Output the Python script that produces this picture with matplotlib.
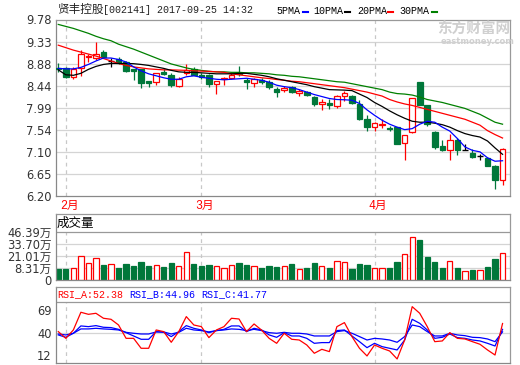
import matplotlib
matplotlib.use("Agg")
import matplotlib.pyplot as plt
from matplotlib.lines import Line2D
from matplotlib.patches import Rectangle

plt.rcParams["font.family"] = ["DejaVu Sans", "Noto Sans CJK SC"]

# ---- data ----
opens = [8.80, 8.80, 8.61, 8.80, 9.03, 9.006, 9.127, 8.93, 8.99, 8.92,
         8.775, 8.775, 8.53, 8.52, 8.72, 8.66, 8.443, 8.696, 8.78, 8.66,
         8.648, 8.464, 8.57, 8.593, 8.70, 8.545, 8.49, 8.545, 8.51, 8.368,
         8.36, 8.41, 8.287, 8.32, 8.205, 8.075, 8.096, 8.034, 8.239, 8.232,
         8.075, 7.76, 7.605, 7.65, 7.58, 7.597, 7.275, 7.494, 8.509, 8.043,
         7.508, 7.22, 7.144, 7.343, 7.13, 7.069, 7.014, 6.98, 6.822, 6.534]
highs = [8.90, 8.82, 8.82, 9.16, 9.09, 9.32, 9.17, 9.00, 9.02, 8.93,
         8.78, 8.78, 8.535, 8.70, 8.77, 8.69, 8.61, 8.886, 8.81, 8.69,
         8.68, 8.54, 8.61, 8.69, 8.83, 8.59, 8.59, 8.59, 8.565, 8.41,
         8.44, 8.44, 8.375, 8.34, 8.225, 8.17, 8.17, 8.25, 8.327, 8.25,
         8.14, 7.84, 7.70, 7.76, 7.62, 7.60, 7.45, 8.20, 8.51, 8.05,
         7.53, 7.343, 7.46, 7.39, 7.253, 7.165, 7.062, 7.00, 6.84, 7.17]
lows = [8.72, 8.60, 8.585, 8.64, 8.92, 8.96, 9.02, 8.81, 8.88, 8.72,
        8.55, 8.40, 8.42, 8.45, 8.66, 8.42, 8.41, 8.66, 8.65, 8.58,
        8.42, 8.27, 8.46, 8.58, 8.63, 8.38, 8.42, 8.48, 8.375, 8.22,
        8.31, 8.30, 8.225, 8.24, 8.035, 7.95, 7.966, 7.99, 8.123, 8.07,
        7.75, 7.52, 7.52, 7.59, 7.53, 7.25, 6.945, 7.49, 8.04, 7.63,
        7.15, 7.117, 6.93, 7.03, 7.13, 6.98, 6.945, 6.81, 6.342, 6.43]
closes = [8.77, 8.62, 8.775, 9.08, 9.05, 9.073, 9.025, 8.93, 8.89, 8.735,
          8.74, 8.50, 8.50, 8.69, 8.67, 8.46, 8.58, 8.764, 8.66, 8.607,
          8.464, 8.532, 8.59, 8.66, 8.68, 8.505, 8.58, 8.505, 8.41, 8.32,
          8.39, 8.307, 8.33, 8.26, 8.068, 8.11, 8.048, 8.225, 8.286, 8.082,
          7.76, 7.605, 7.693, 7.66, 7.565, 7.254, 7.446, 8.193, 8.043, 7.666,
          7.206, 7.137, 7.343, 7.137, 7.13, 7.00, 7.014, 6.81, 6.534, 7.165]

ma5 = [8.79, 8.78, 8.78, 8.81, 8.87, 8.94, 9.00, 9.00, 8.97, 8.92,
       8.82, 8.74, 8.68, 8.64, 8.60, 8.57, 8.57, 8.62, 8.64, 8.61,
       8.59, 8.57, 8.56, 8.57, 8.58, 8.59, 8.57, 8.55, 8.51, 8.45,
       8.42, 8.40, 8.36, 8.31, 8.26, 8.22, 8.18, 8.16, 8.155, 8.145,
       8.08, 7.95, 7.84, 7.74, 7.66, 7.60, 7.55, 7.57, 7.66, 7.72,
       7.70, 7.60, 7.52, 7.37, 7.20, 7.13, 7.10, 6.98, 6.91, 6.92]
ma10 = [8.76, 8.66, 8.65, 8.69, 8.77, 8.83, 8.87, 8.89, 8.89, 8.89,
        8.885, 8.87, 8.85, 8.82, 8.79, 8.75, 8.72, 8.71, 8.71, 8.70,
        8.69, 8.68, 8.68, 8.68, 8.69, 8.69, 8.67, 8.65, 8.62, 8.58,
        8.55, 8.52, 8.49, 8.46, 8.42, 8.39, 8.36, 8.355, 8.35, 8.34,
        8.27, 8.20, 8.10, 8.02, 7.93, 7.85, 7.78, 7.72, 7.70, 7.70,
        7.68, 7.65, 7.60, 7.53, 7.47, 7.43, 7.40, 7.32, 7.18, 7.05]
ma20 = [9.26, 9.21, 9.16, 9.12, 9.08, 9.04, 8.99, 8.94, 8.89, 8.85,
        8.82, 8.80, 8.78, 8.77, 8.76, 8.76, 8.755, 8.75, 8.74, 8.735,
        8.73, 8.72, 8.71, 8.68, 8.66, 8.64, 8.62, 8.60, 8.585, 8.565,
        8.55, 8.53, 8.52, 8.50, 8.48, 8.46, 8.44, 8.42, 8.40, 8.37,
        8.34, 8.31, 8.27, 8.23, 8.16, 8.11, 8.07, 8.04, 8.00, 7.96,
        7.92, 7.88, 7.84, 7.80, 7.76, 7.70, 7.64, 7.53, 7.45, 7.38]
ma30 = [9.68, 9.64, 9.60, 9.55, 9.50, 9.44, 9.39, 9.35, 9.28, 9.23,
        9.18, 9.12, 9.06, 9.00, 8.94, 8.88, 8.84, 8.80, 8.77, 8.75,
        8.73, 8.72, 8.72, 8.71, 8.71, 8.70, 8.70, 8.69, 8.68, 8.66,
        8.65, 8.63, 8.62, 8.60, 8.58, 8.56, 8.54, 8.52, 8.51, 8.48,
        8.45, 8.42, 8.39, 8.36, 8.31, 8.28, 8.27, 8.25, 8.21, 8.16,
        8.13, 8.10, 8.06, 8.02, 7.98, 7.92, 7.86, 7.78, 7.70, 7.66]

# volume in 万 (axis labelled oddly: bottom tick reads "0")
volumes = [7.5, 7.5, 8.6, 21.2, 13.6, 19.4, 11.8, 12.5, 8.9, 12.9,
           10.7, 15.1, 10.7, 11.5, 9.7, 14.0, 10.7, 25.5, 12.9, 10.7,
           11.8, 10.4, 8.6, 11.5, 14.0, 11.8, 10.4, 8.9, 10.7, 9.7,
           10.4, 12.9, 7.5, 8.6, 14.0, 10.4, 8.6, 15.8, 15.1, 7.5,
           12.9, 11.8, 8.6, 8.6, 8.6, 15.1, 23.3, 41.7, 38.1, 20.5,
           15.1, 8.6, 15.8, 8.6, 5.0, 6.4, 6.1, 9.7, 18.3, 24.4]

rsi_a = [42.1, 33.6, 44.2, 66.6, 64.0, 65.3, 59.0, 57.7, 50.5, 33.6,
         33.6, 21.0, 21.0, 44.2, 42.1, 28.6, 42.1, 61.1, 50.5, 48.4,
         34.5, 44.2, 48.4, 59.0, 58.1, 42.1, 51.8, 44.0, 33.6, 27.3,
         40.0, 32.4, 31.5, 25.2, 14.7, 19.7, 16.8, 48.4, 53.5, 35.8,
         21.0, 11.3, 25.2, 21.0, 17.6, 7.5, 31.5, 73.7, 65.3, 48.4,
         29.4, 30.3, 40.8, 33.6, 32.8, 29.4, 26.1, 18.9, 12.5, 52.38]
rsi_b = [37.9, 34.9, 40.0, 49.3, 48.4, 49.7, 47.6, 47.2, 45.0, 40.8,
         36.6, 32.4, 32.4, 42.1, 41.2, 35.8, 42.1, 49.7, 46.3, 44.2,
         40.8, 43.4, 45.0, 49.3, 49.3, 42.1, 46.3, 44.2, 37.9, 34.9,
         40.8, 36.6, 36.6, 33.6, 27.3, 28.2, 28.2, 43.4, 44.2, 36.6,
         29.4, 21.8, 27.3, 23.1, 21.0, 18.9, 31.5, 57.7, 52.6, 44.2,
         33.6, 34.9, 39.1, 34.5, 33.6, 31.5, 30.3, 27.3, 23.9, 44.96]
rsi_c = [39.1, 37.9, 40.0, 45.5, 45.5, 46.3, 45.5, 45.0, 44.2, 41.2,
         40.0, 39.1, 39.1, 41.7, 41.7, 39.1, 41.2, 46.3, 44.2, 43.4,
         41.7, 43.4, 44.2, 45.5, 45.0, 43.4, 45.0, 43.4, 40.8, 40.0,
         41.2, 40.0, 40.0, 39.1, 36.6, 36.6, 36.6, 42.1, 43.4, 40.0,
         35.8, 31.5, 33.6, 32.8, 31.5, 28.6, 35.8, 50.5, 48.4, 42.1,
         36.6, 36.6, 40.0, 37.9, 37.0, 34.9, 34.5, 32.8, 29.4, 41.77]

month_starts = [1, 19, 42]
month_labels = ["2月", "3月", "4月"]
price_ticks = [9.78, 9.33, 8.88, 8.44, 7.99, 7.54, 7.10, 6.65, 6.20]
price_tick_labels = ["9.78", "9.33", "8.88", "8.44", "7.99", "7.54", "7.10", "6.65", "6.20"]
vol_ticks = [-4.38, 8.31, 21.01, 33.70, 46.39]
vol_tick_labels = ["0", "8.31万", "21.01万", "33.70万", "46.39万"]
rsi_ticks = [12, 40, 69]
rsi_tick_labels = ["12", "40", "69"]

# ---- styling ----
W, H = 520, 365
RED = "#ff0000"
GREEN = "#00773a"
GRID = "#d4d4d4"
FRAME = "#999999"
MONO = ["Liberation Mono", "Noto Sans CJK SC"]
CJK = ["Noto Sans CJK SC", "DejaVu Sans"]


def rect(left, top, right, bottom):
    """Pixel box (top-left origin) -> figure fraction rect."""
    return [left / W, 1 - bottom / H, (right - left) / W, (bottom - top) / H]


def ftext(px, py, s, **kw):
    fig.text(px / W, 1 - py / H, s, **kw)


def style_axes(ax, ticks, labels):
    ax.set_xlim(-0.345, 59.99)
    ax.set_xticks([])
    ax.set_yticks(ticks)
    ax.set_yticklabels(labels)
    ax.tick_params(axis="y", length=0, pad=3, labelsize=8.3, labelcolor="#333333")
    for side in ax.spines:
        ax.spines[side].set_color(FRAME)
        ax.spines[side].set_linewidth(0.9)
    ax.spines["left"].set_color("#888888")
    ax.spines["bottom"].set_color("#888888")


fig = plt.figure(figsize=(W / 100, H / 100), dpi=100)
x = list(range(len(closes)))

# ---- price panel ----
ax = fig.add_axes(rect(55.7, 19.5, 510, 196.3))
style_axes(ax, price_ticks, price_tick_labels)
ax.set_ylim(6.20, 9.78)
for t in price_ticks[1:-1]:
    ax.axhline(t, color=GRID, lw=0.9, zorder=0)
for m in month_starts:
    ax.axvline(m, color="#c8c8c8", lw=0.9, ls=(0, (3, 3)), zorder=0)

for i in x:
    o, h, l, c = opens[i], highs[i], lows[i], closes[i]
    if c > o:
        col, face = RED, "white"
    elif c < o:
        col, face = GREEN, GREEN
    else:
        col, face = "black", "black"
    ax.vlines(i, l, h, color=col, lw=0.9, zorder=2)
    lo, hi = min(o, c), max(o, c)
    if hi - lo < 0.004:
        ax.hlines(o, i - 0.37, i + 0.37, color=col, lw=1.0, zorder=3)
    else:
        ax.add_patch(Rectangle((i - 0.37, lo), 0.74, hi - lo, facecolor=face,
                               edgecolor=col, lw=0.9, zorder=3))

ax.plot(x, ma30, color="#008000", lw=0.9, zorder=4)
ax.plot(x, ma20, color=RED, lw=0.9, zorder=4)
ax.plot(x, ma10, color="black", lw=0.9, zorder=4)
ax.plot(x, ma5, color="#0000ff", lw=0.9, zorder=4)

for m, lab in zip(month_starts, month_labels):
    ax.text(m + 0.45, -0.055, lab, transform=ax.get_xaxis_transform(),
            ha="center", va="center", color=RED, fontsize=8.4, family=MONO)

# ---- volume panel ----
vax = fig.add_axes(rect(55.7, 214.3, 510, 280))
style_axes(vax, vol_ticks, vol_tick_labels)
vbase = vol_ticks[0]
vax.set_ylim(vbase, 65.55)
for t in vol_ticks[1:-1]:
    vax.axhline(t, color=GRID, lw=0.9, zorder=0)
vax.axhline(vol_ticks[-1], color=FRAME, lw=0.9, zorder=1)
for m in month_starts:
    vax.vlines(m, vbase, vol_ticks[-1], color="#c8c8c8", lw=0.9,
               linestyles=(0, (3, 3)), zorder=0)
for i in x:
    up = closes[i] >= opens[i]
    vax.bar(i, volumes[i] - vbase, bottom=vbase, width=0.7,
            facecolor="white" if up else GREEN,
            edgecolor=RED if up else GREEN, lw=0.9, zorder=2)
ftext(57, 223.3, "成交量", fontsize=9, family=CJK, va="center", color="black")

# ---- RSI panel ----
rax = fig.add_axes(rect(55.7, 287.3, 510, 363.3))
style_axes(rax, rsi_ticks, rsi_tick_labels)
rax.set_ylim(2.0, 98.2)
rax.axhline(40, color=GRID, lw=0.9, zorder=0)
rax.axhline(80, color=FRAME, lw=0.9, zorder=1)
for m in month_starts:
    rax.vlines(m, 2.0, 80, color="#c8c8c8", lw=0.9, linestyles=(0, (3, 3)), zorder=0)
rax.plot(x, rsi_c, color="#0000ff", lw=0.9)
rax.plot(x, rsi_b, color="#0000ff", lw=0.9)
rax.plot(x, rsi_a, color=RED, lw=0.9)
ftext(57, 294.3, f"RSI_A:{rsi_a[-1]:.2f}", fontsize=7.2, family=MONO, color=RED, va="center")
ftext(129, 294.3, f"RSI_B:{rsi_b[-1]:.2f}", fontsize=7.2, family=MONO, color="#0000ff", va="center")
ftext(201, 294.3, f"RSI_C:{rsi_c[-1]:.2f}", fontsize=7.2, family=MONO, color="#0000ff", va="center")

# ---- header: title, MA legend, watermark ----
ftext(57, 9.8, "贤丰控股", fontsize=8.4, family=CJK, va="center", color="#222222")
ftext(103, 9.8, "[002141] 2017-09-25 14:32", fontsize=7.2, family=MONO,
      va="center", color="#222222")

legend = [("5PMA", 276, 303, "#0000ff"), ("10PMA", 313, 345, "black"),
          ("20PMA", 357, 388, RED), ("30PMA", 399, 432, "#008000")]
for name, tx, dx, col in legend:
    ftext(tx, 10.8, name, fontsize=7.2, family=MONO, va="center", color="black")
    fig.add_artist(Line2D([dx / W, (dx + 5) / W], [1 - 11.7 / H, 1 - 11.7 / H],
                          color=col, lw=1.5, transform=fig.transFigure))

ftext(474, 29, "东方财富网", fontsize=10.5, family=CJK, weight="bold",
      color="#d0d0d0", ha="center", va="center")
ftext(478, 41.5, "eastmoney.com", fontsize=6, weight="bold",
      color="#d0d0d0", ha="center", va="center")

fig.savefig("out.png", dpi=100)
